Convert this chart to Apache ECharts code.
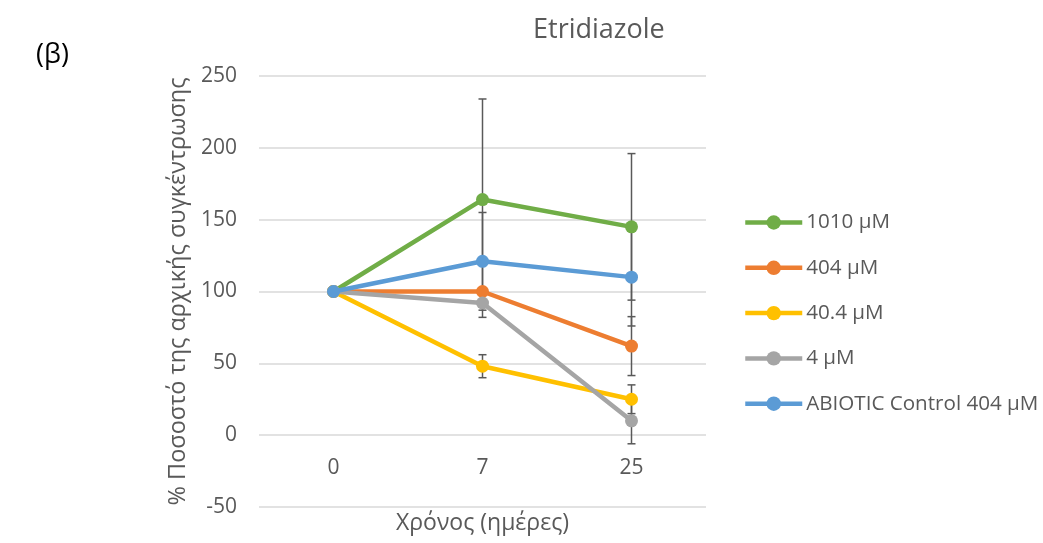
<!DOCTYPE html>
<head>
    <meta charset="utf-8">
    <title>Etridiazole</title>
    <style>
        html, body {
            width: 100%;
            height: 100%;
            margin: 0;
            background: #fff;
        }
        #main {
            width: 1043px;
            height: 543px;
        }
    </style>
</head>
<body>
<div id="main"></div>
<script src="https://cdn.jsdelivr.net/npm/echarts@6/dist/echarts.min.js"></script>
<script type="text/javascript">
  var days = ['0', '7', '25'];
  var names = ['1010 μM', '404 μM', '40.4 μM', '4 μM', 'ABIOTIC Control 404 μM'];
  var colors = ['#70AD47', '#ED7D31', '#FFC000', '#A5A5A5', '#5B9BD5'];

  var s1010 = [100, 164, 145];
  var s404 = [100, 100, 62];
  var s40 = [100, 48, 25];
  var s4 = [100, 92, 10];
  var sAbiotic = [100, 121, 110];

  // +/- error per point
  var e1010 = [0, 70, 51];
  var e404 = [0, 0, 20.5];
  var e40 = [0, 8, 10];
  var e4 = [0, 10, 16];
  var eAbiotic = [0, 34, 34];

  var values = [s1010, s404, s40, s4, sAbiotic];
  var errors = [e1010, e404, e40, e4, eAbiotic];

  var font = '"Open Sans", "Noto Sans", sans-serif';
  var textColor = '#595959';

  var myChart = echarts.init(document.getElementById('main'));

  function errorBars(vals, errs) {
    var data = [];
    for (var i = 0; i < vals.length; i++) {
      if (errs[i] > 0) {
        data.push([i, vals[i] - errs[i], vals[i] + errs[i]]);
      }
    }
    return {
      type: 'custom',
      z: 1,
      silent: true,
      renderItem: function (params, api) {
        var lo = api.coord([api.value(0), api.value(1)]);
        var hi = api.coord([api.value(0), api.value(2)]);
        var w = 4;
        var style = {stroke: '#595959', lineWidth: 1.5};
        return {
          type: 'group',
          children: [
            {type: 'line', shape: {x1: hi[0], y1: hi[1], x2: lo[0], y2: lo[1]}, style: style},
            {type: 'line', shape: {x1: hi[0] - w, y1: hi[1], x2: hi[0] + w, y2: hi[1]}, style: style},
            {type: 'line', shape: {x1: lo[0] - w, y1: lo[1], x2: lo[0] + w, y2: lo[1]}, style: style}
          ]
        };
      },
      encode: {x: 0, y: [1, 2]},
      data: data
    };
  }

  var series = [];
  for (var k = 0; k < names.length; k++) {
    series.push(errorBars(values[k], errors[k]));
  }
  for (var k = 0; k < names.length; k++) {
    series.push({
      name: names[k],
      type: 'line',
      z: 2 + k,
      symbol: 'circle',
      symbolSize: 13,
      color: colors[k],
      lineStyle: {width: 4.5, color: colors[k]},
      itemStyle: {color: colors[k]},
      data: values[k]
    });
  }

  var option = {
    animation: false,
    title: {
      text: 'Etridiazole',
      left: 528,
      top: 12,
      textStyle: {fontFamily: font, fontSize: 27, fontWeight: 'normal', color: textColor}
    },
    graphic: [{
      type: 'text',
      left: 36,
      top: 42,
      style: {text: '(β)', font: '27px ' + font, fill: '#000'}
    }],
    legend: {
      orient: 'vertical',
      left: 738,
      top: 207,
      itemWidth: 57,
      itemHeight: 18,
      itemGap: 24.3,
      data: names,
      lineStyle: {width: 4.5},
      textStyle: {fontFamily: font, fontSize: 20.6, color: textColor, padding: [0, 0, 0, -1]}
    },
    grid: {
      left: 259,
      right: 337,
      top: 76,
      bottom: 36,
      outerBoundsMode: 'none'
    },
    xAxis: {
      type: 'category',
      data: days,
      name: 'Χρόνος (ημέρες)',
      nameLocation: 'middle',
      nameGap: 5,
      nameTextStyle: {fontFamily: font, fontSize: 23, color: textColor},
      axisLine: {show: false},
      axisTick: {show: false},
      axisLabel: {margin: -49, fontFamily: font, fontSize: 21, color: textColor}
    },
    yAxis: {
      type: 'value',
      min: -50,
      max: 250,
      interval: 50,
      name: '% Ποσοστό της αρχικής συγκέντρωσης',
      nameLocation: 'middle',
      nameGap: 69,
      nameTextStyle: {fontFamily: font, fontSize: 23.5, color: textColor},
      axisLine: {show: false},
      axisTick: {show: false},
      axisLabel: {margin: 22, fontFamily: font, fontSize: 21, color: textColor},
      splitLine: {lineStyle: {color: '#D9D9D9', width: 1.5}}
    },
    series: series
  };
  myChart.setOption(option);
</script>
</body>
